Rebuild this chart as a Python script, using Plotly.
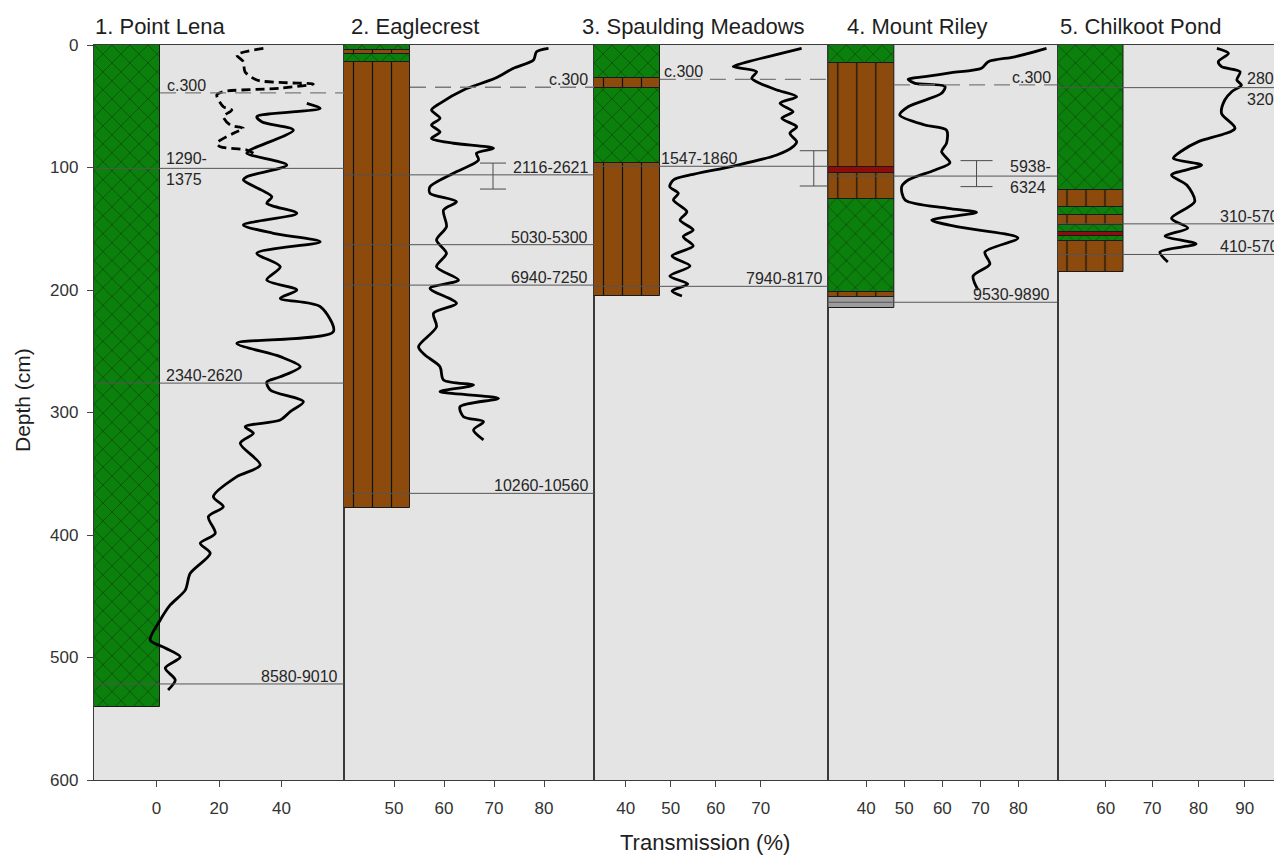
import plotly.graph_objects as go

# ---------------- DATA ----------------
panel_titles = ["1. Point Lena", "2. Eaglecrest", "3. Spaulding Meadows", "4. Mount Riley", "5. Chilkoot Pond"]

# core stratigraphy (depth cm)
lena_top = [0]
lena_bot = [540]
lena_unit = ["moss"]
eagle_top = [0, 4, 7, 14]
eagle_bot = [4, 7, 14, 378]
eagle_unit = ["moss", "peat", "moss", "peat"]
spaul_top = [0, 27, 35, 96]
spaul_bot = [27, 35, 96, 205]
spaul_unit = ["moss", "peat", "moss", "peat"]
riley_top = [0, 15, 99.5, 104.5, 126, 202, 206]
riley_bot = [15, 99.5, 104.5, 126, 202, 206, 215]
riley_unit = ["moss", "peat", "tephra", "peat", "moss", "peat", "clay"]
chil_top = [0, 118, 132, 139, 147, 153, 156, 160]
chil_bot = [118, 132, 139, 147, 153, 156, 160, 185]
chil_unit = ["moss", "peat", "moss", "peat", "moss", "tephra", "moss", "peat"]

# transmission curves (%), depth (cm)
lena_dash_T = [34.2, 25.7, 27.8, 28.3, 32.1, 41.7, 50.2, 39.6, 21.4, 19.3, 21.4, 24.1, 21.4, 23.6, 27.8, 24.6, 19.3, 20.4, 28.9, 31.0]
lena_dash_depth = [2.7, 8.2, 13.6, 21.8, 28.6, 30.8, 31.8, 35.3, 38.1, 40.8, 50.4, 53.1, 58.5, 65.3, 68.0, 72.1, 80.2, 83.0, 85.7, 88.4]
lena_T = [48.1, 52.4, 32.1, 33.8, 43.8, 30.0, 28.9, 41.7, 28.9, 27.8, 36.9, 35.3, 44.9, 27.8, 37.4, 52.4, 32.1, 39.6, 35.3, 44.9,
          39.6, 52.4, 56.6, 25.7, 39.6, 46.0, 39.6, 35.3, 36.4, 47.0, 42.8, 39.6, 28.4, 31.0, 26.8, 33.2, 25.7, 18.2, 21.4, 16.6,
          18.8, 14.0, 17.2, 10.8, 9.2, 4.4, 1.2, -2.0, 2.8, 7.6, 2.8, 6.0, 3.7]
lena_depth = [47.6, 51.7, 58.5, 62.9, 69.4, 85.7, 88.4, 98.0, 107.5, 110.2, 123.8, 129.2, 137.4, 146.9, 153.7, 160.6, 170.0, 181.0, 191.8, 200.0,
              206.8, 213.6, 234.0, 243.5, 254.4, 262.6, 270.8, 275.1, 281.6, 291.2, 299.3, 306.1, 311.6, 317.0, 325.1, 342.9, 352.4, 368.7, 376.9, 385.1,
              398.6, 406.8, 414.9, 431.3, 445.0, 457.1, 469.4, 485.7, 492.2, 499.6, 508.6, 518.4, 526.5]
eagle_T = [80.9, 78.5, 77.9, 73.9, 70.2, 63.9, 59.2, 57.5, 59.2, 57.5, 59.2, 57.5, 61.9, 69.9, 66.5, 66.9, 61.9, 57.2, 57.2, 62.5,
           59.9, 60.5, 58.5, 60.5, 58.5, 62.9, 57.2, 62.5, 57.9, 58.5, 54.9, 56.2, 59.2, 59.9, 65.9, 59.2, 70.9, 63.2, 63.9, 67.9,
           65.9, 67.9]
eagle_depth = [2.7, 5.5, 12.2, 19.0, 27.2, 36.7, 47.6, 53.1, 59.8, 65.3, 71.0, 76.2, 80.2, 84.3, 88.4, 93.9, 104.7, 115.7, 121.1, 127.9,
               134.7, 148.3, 159.2, 170.0, 181.0, 191.8, 198.6, 210.9, 219.0, 230.0, 246.3, 253.1, 262.6, 273.5, 277.6, 283.0, 288.4, 295.3, 303.4, 307.5,
               314.3, 322.4]
spaul_T = [79.1, 64.7, 63.9, 69.1, 68.0, 69.8, 73.6, 78.0, 74.3, 77.2, 74.7, 78.0, 76.5, 78.0, 77.2, 73.6, 63.9, 54.3, 50.6, 49.8,
           51.7, 50.6, 53.6, 52.1, 55.0, 52.8, 55.0, 50.3, 54.3, 49.8, 53.8, 50.3, 52.5]
spaul_depth = [2.7, 16.3, 17.7, 21.8, 27.2, 31.3, 36.7, 42.2, 47.6, 54.4, 59.8, 66.7, 72.1, 78.9, 83.0, 89.8, 98.8, 106.1, 110.2, 115.7,
               121.1, 126.5, 136.1, 142.9, 151.0, 156.5, 164.1, 172.2, 180.4, 188.6, 195.1, 200.8, 204.9]
riley_T = [87.4, 79.1, 72.1, 70.3, 62.4, 55.4, 51.0, 52.8, 60.7, 59.8, 51.0, 48.8, 55.4, 61.1, 61.1, 59.8, 62.0, 58.1, 51.0, 49.3,
           50.2, 61.6, 69.0, 57.2, 63.8, 79.9, 71.2, 72.5, 68.1, 69.4]
riley_depth = [2.7, 9.6, 13.6, 19.0, 22.6, 25.9, 28.0, 31.3, 33.9, 39.4, 50.4, 57.1, 65.3, 69.4, 80.2, 87.1, 96.1, 102.0, 110.2, 115.7,
               126.5, 133.3, 136.7, 142.9, 148.3, 157.6, 169.0, 178.8, 188.6, 200.0]
chil_T = [84.0, 86.5, 84.3, 85.0, 89.0, 88.3, 89.3, 87.2, 85.7, 85.0, 87.9, 80.0, 76.7, 74.6, 80.7, 74.2, 77.5, 79.2, 74.2, 77.7,
          72.8, 79.5, 71.7, 73.4]
chil_depth = [2.7, 6.8, 13.6, 17.7, 21.8, 28.6, 32.7, 38.1, 44.9, 55.8, 68.0, 78.9, 85.7, 92.5, 98.0, 106.1, 114.3, 127.9, 141.5, 149.4,
              155.9, 162.4, 169.0, 177.1]

# dated horizons (cal BP) and their depths (cm)
lena_dates = ["1290-<br>1375", "2340-2620", "8580-9010"]
lena_date_depth = [100.7, 276, 521.6]
eagle_dates = ["2116-2621", "5030-5300", "6940-7250", "10260-10560"]
eagle_date_depth = [106, 163, 196, 366]
spaul_dates = ["1547-1860", "7940-8170"]
spaul_date_depth = [99, 197]
riley_dates = ["5938-<br>6324", "9530-9890"]
riley_date_depth = [107, 210]
chil_dates = ["280-<br>320", "310-570", "410-570"]
chil_date_depth = [34.8, 146, 171]

# c.300 marker depths (cm)
c300_depth = [39, 34.5, 28, 32.6, None]

# age-depth error bars: centre depth, half range (cm)
eagle_err_depth, eagle_err_half = [107], [10.6]
spaul_err_depth, spaul_err_half = [100.7], [14.4]
riley_err_depth, riley_err_half = [105], [10.6]

# tick labels
x_ticks = [[0, 20, 40], [50, 60, 70, 80], [40, 50, 60, 70], [40, 50, 60, 70, 80], [60, 70, 80, 90]]
y_ticks = [0, 100, 200, 300, 400, 500, 600]

# ---------------- STYLE / POSITIONS ----------------
OFF = 8                       # page body margin of the html page
W, H = 1282 - OFF, 856 - OFF
ML, MR, MT, MB = 94 - OFF, 0, 45 - OFF, 76
PW = W - ML - MR
PH = H - MT - MB
edges_px = [94, 344, 594, 828.3, 1057.5, 1282]
domains = [[(edges_px[i] - 94) / PW, (edges_px[i + 1] - 94) / PW] for i in range(5)]
x_ranges = [[-20, 60], [40, 90], [32.96, 85.03], [30, 90.3], [49.57, 98.06]]
core_lr = [[-20, 1.15], [40, 53.2], [32.96, 47.6], [30, 47.3], [49.57, 63.93]]

GREEN = "#0c800c"
BROWN = "#8c4a0c"
RED = "#8e0c0c"
GRAY = "#9c9c9c"
unit_color = {"moss": GREEN, "peat": BROWN, "tephra": RED, "clay": GRAY}
unit_shape = {"moss": "x", "peat": "|", "tephra": "", "clay": ""}
unit_size = {"moss": 12.7, "peat": 19, "tephra": 8, "clay": 8}
unit_solid = {"moss": 0.06, "peat": 0.065, "tephra": 0.3, "clay": 0.3}

FONT = "Arial, Liberation Sans, sans-serif"
TXT = "#262626"

layers = [(lena_top, lena_bot, lena_unit), (eagle_top, eagle_bot, eagle_unit), (spaul_top, spaul_bot, spaul_unit),
          (riley_top, riley_bot, riley_unit), (chil_top, chil_bot, chil_unit)]
curves = [(lena_T, lena_depth), (eagle_T, eagle_depth), (spaul_T, spaul_depth), (riley_T, riley_depth), (chil_T, chil_depth)]
dates = [(lena_dates, lena_date_depth), (eagle_dates, eagle_date_depth), (spaul_dates, spaul_date_depth),
         (riley_dates, riley_date_depth), (chil_dates, chil_date_depth)]
# label placement: (x value, anchor)
date_label_pos = [
    [(2.4, "left"), (2.4, "left"), (58.8, "right")],
    [(89.1, "right"), (89.1, "right"), (89.1, "right"), (89.2, "right")],
    [(47.5, "left"), (84.4, "right")],
    [(77.3, "left"), (88.8, "right")],
    [(97.9, "right"), (97.9, "right"), (97.9, "right")],
]
c300_pos = [(2.7, "left"), (89.1, "right"), (48.1, "left"), (89.2, "right"), None]
err_x = [None, 69.8, 81.8, 69.0, None]
err_data = [None, (eagle_err_depth, eagle_err_half), (spaul_err_depth, spaul_err_half), (riley_err_depth, riley_err_half), None]
err_cap = [None, 13, 14, 16, None]

fig = go.Figure()
shapes = []
annotations = []

for i in range(5):
    xa = "x" if i == 0 else f"x{i+1}"
    ya = "y" if i == 0 else f"y{i+1}"
    tops, bots, units = layers[i]
    cl, cr = core_lr[i]
    for u in ["moss", "peat", "tephra", "clay"]:
        idx = [k for k, uu in enumerate(units) if uu == u]
        if not idx:
            continue
        pat = dict(shape=unit_shape[u], fgcolor="#0e140e", bgcolor=unit_color[u],
                   size=unit_size[u], solidity=unit_solid[u], fillmode="replace") if unit_shape[u] else None
        mk = dict(color=unit_color[u], line=dict(color="#1a1a1a", width=1))
        if pat:
            mk["pattern"] = pat
        fig.add_trace(go.Bar(
            x=[(cl + cr) / 2] * len(idx), y=[bots[k] - tops[k] for k in idx], base=[tops[k] for k in idx],
            width=[cr - cl] * len(idx), xaxis=xa, yaxis=ya, showlegend=False, hoverinfo="skip", marker=mk))
    # date lines
    for lab, d in zip(*dates[i]):
        shapes.append(dict(type="line", xref=xa, yref=ya, x0=x_ranges[i][0], x1=x_ranges[i][1], y0=d, y1=d,
                           line=dict(color="#555555", width=1), layer="above"))
    for (lab, d), (lx, anc) in zip(zip(*dates[i]), date_label_pos[i]):
        two = "<br>" in lab
        annotations.append(dict(xref=xa, yref=ya, x=lx, y=d, text=lab, showarrow=False, xanchor=anc,
                                yanchor="middle" if two else "bottom", yshift=-1 if two else -3,
                                font=dict(family=FONT, size=16, color=TXT), align="left"))
    # c.300
    if c300_depth[i] is not None:
        d = c300_depth[i]
        shapes.append(dict(type="line", xref=xa, yref=ya, x0=cr, x1=x_ranges[i][1], y0=d, y1=d,
                           line=dict(color="#7a7a7a", width=1.3, dash="16px,9px"), layer="above"))
        lx, anc = c300_pos[i]
        annotations.append(dict(xref=xa, yref=ya, x=lx, y=d, text="c.300", showarrow=False, xanchor=anc,
                                yanchor="bottom", yshift=-3, font=dict(family=FONT, size=16, color=TXT)))
    # error bars
    if err_data[i] is not None:
        ed, eh = err_data[i]
        fig.add_trace(go.Scatter(x=[err_x[i]] * len(ed), y=ed, mode="markers", xaxis=xa, yaxis=ya,
                                 marker=dict(size=1, color="rgba(0,0,0,0)"), showlegend=False, hoverinfo="skip",
                                 error_y=dict(type="data", array=eh, width=err_cap[i], thickness=1, color="#4a4a4a")))
    # curves
    T, D = curves[i]
    if i == 0:
        fig.add_trace(go.Scatter(x=lena_dash_T, y=lena_dash_depth, mode="lines", xaxis=xa, yaxis=ya, showlegend=False,
                                 line=dict(color="black", width=2.8, dash="9px,5px", shape="spline", smoothing=0.8)))
    fig.add_trace(go.Scatter(x=T, y=D, mode="lines", xaxis=xa, yaxis=ya, showlegend=False,
                             line=dict(color="black", width=2.8, shape="spline", smoothing=0.8)))

layout = dict(
    width=W, height=H, autosize=False,
    margin=dict(l=ML, r=MR, t=MT, b=MB, pad=0),
    paper_bgcolor="white", plot_bgcolor="#e4e4e4",
    barmode="overlay", bargap=0, showlegend=False,
    font=dict(family=FONT, color=TXT),
)
for i in range(5):
    xk = "xaxis" if i == 0 else f"xaxis{i+1}"
    yk = "yaxis" if i == 0 else f"yaxis{i+1}"
    layout[xk] = dict(domain=domains[i], range=x_ranges[i], anchor="y" if i == 0 else f"y{i+1}",
                      tickmode="array", tickvals=x_ticks[i], ticks="outside", ticklen=6, tickcolor="#444",
                      showline=True, mirror=True, linecolor="#3a3a3a", linewidth=1.3,
                      showgrid=False, zeroline=False, ticklabelstandoff=6,
                      tickfont=dict(family=FONT, size=17, color="#333"))
    layout[yk] = dict(domain=[0, 1], range=[600, 0], anchor="x" if i == 0 else f"x{i+1}",
                      showline=True, mirror=True, linecolor="#3a3a3a", linewidth=1.3,
                      showgrid=False, zeroline=False)
    if i == 0:
        layout[yk].update(tickmode="array", tickvals=y_ticks, ticks="outside", ticklen=6, tickcolor="#444",
                          ticklabelstandoff=5, tickfont=dict(family=FONT, size=17, color="#333"))
    else:
        layout[yk].update(showticklabels=False, ticks="", matches="y")

def px_to_paper(px, py):
    return (px - 94) / PW, (780 - py) / PH

title_px = [93, 349, 580, 845, 1058]
for t, px in zip(panel_titles, title_px):
    xp, yp = px_to_paper(px, 26)
    annotations.append(dict(xref="paper", yref="paper", x=xp, y=yp,
                            text=t, showarrow=False, xanchor="left", yanchor="middle",
                            font=dict(family=FONT, size=22, color="#1e1e1e")))
xp, yp = px_to_paper(705, 843)
annotations.append(dict(xref="paper", yref="paper", x=xp, y=yp,
                        text="Transmission (%)", showarrow=False, xanchor="center", yanchor="middle",
                        font=dict(family=FONT, size=22, color="#1e1e1e")))
xp, yp = px_to_paper(22, 400)
annotations.append(dict(xref="paper", yref="paper", x=xp, y=yp,
                        text="Depth (cm)", showarrow=False, textangle=-90, xanchor="center", yanchor="middle",
                        font=dict(family=FONT, size=21, color="#1e1e1e")))
layout["shapes"] = shapes
layout["annotations"] = annotations
fig.update_layout(**layout)
fig.write_html("out.html")
